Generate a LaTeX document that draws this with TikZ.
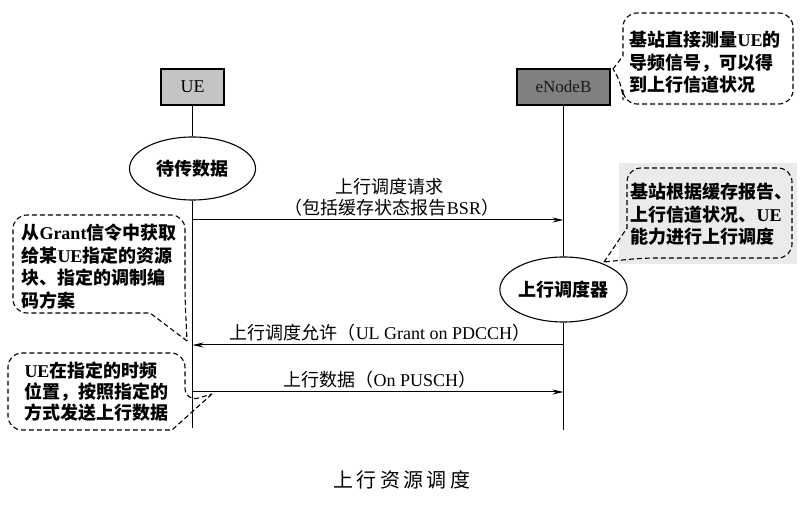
\documentclass[tikz,border=0pt]{standalone}
\usepackage{fontspec}
\setmainfont{Liberation Serif}
\newfontfamily\cjk{Noto Sans CJK SC}
\usetikzlibrary{arrows.meta,shapes.geometric}
\newcommand\zr[1]{{\cjk #1}}
\newcommand\zb[1]{{\cjk\bfseries #1}}
\begin{document}
\begin{tikzpicture}[x=1pt,y=-1pt,line width=1pt,
  lifebox/.style={draw,line width=1.2pt,minimum width=63pt,minimum height=36pt,inner sep=0pt},
  state/.style={draw,ellipse,line width=1.1pt,inner sep=0pt,font=\fontsize{18}{18}\selectfont},
  msg/.style={line width=1pt,-{Stealth[length=11pt,width=5pt]}},
  lbl/.style={inner sep=0pt,font=\fontsize{18}{18}\selectfont},
  calloutline/.style={draw,line width=1.1pt,dash pattern=on 5pt off 3pt},
  note/.style={anchor=west,inner sep=0pt,align=left,font=\fontsize{18}{22.5}\selectfont\bfseries}]
\useasboundingbox (0,0) rectangle (806,510);

% actors
\node[lifebox,fill=black!23] (ue) at (192.5,87) {\fontsize{18}{18}\selectfont UE};
\node[lifebox,fill=black!50,minimum width=93pt,text=black!90] (enb) at (563.5,87) {\fontsize{17}{17}\selectfont eNodeB};

% states
\node[state,minimum width=126pt,minimum height=63pt] (wait) at (192.5,168.5) {\zb{待传数据}};
\node[state,minimum width=127pt,minimum height=65pt] (sched) at (563.5,289.5) {\zb{上行调度器}};

% lifelines
\coordinate (ueend) at (192.5,428);
\coordinate (enbend) at (563.5,430);
\draw (ue.south) -- (wait.north);
\draw (wait.south) -- (ueend);
\draw (enb.south) -- (sched.north);
\draw (sched.south) -- (enbend);

% messages
\coordinate (u1) at (192.5,220); \coordinate (b1) at (563.5,220);
\coordinate (u2) at (192.5,345); \coordinate (b2) at (563.5,345);
\coordinate (u3) at (192.5,392); \coordinate (b3) at (563.5,392);
\draw[msg] (u1) -- (b1);
\draw[msg] (b2) -- (u2);
\draw[msg] (u3) -- (b3);
\node[lbl] (l1a) at (389,187) {\zr{上行调度请求}};
\node[lbl] (l1b) at (392,208) {\zr{（包括缓存状态报告}BSR\zr{）}};
\node[lbl] (l2) at (380,333) {\zr{上行调度允许（}UL Grant on PDCCH\zr{）}};
\node[lbl] (l3) at (380,380) {\zr{上行数据（}On PUSCH\zr{）}};

% callout A (top right)
\coordinate (tipA) at (613,69);
\draw[calloutline] (tipA) -- (623,56) [rounded corners=14pt] -- (623,13) -- (793,13) -- (793,104) -- (623,104) -- (623,86) [sharp corners] -- cycle;
\node[note] (noteA) at (629,62.5) {\zb{基站直接测量}UE\zb{的}\\\zb{导频信号，可以得}\\\zb{到上行信道状况}};

% callout B (right middle)
\fill[black!8] (619,163) rectangle (797,264);
\coordinate (tipB) at (604,262);
\draw[calloutline] (tipB) -- (627,228) [rounded corners=14pt] -- (627,168) -- (792,168) -- (792,258) -- (642,258) [sharp corners] -- cycle;
\node[note] (noteB) at (630,214.5) {\zb{基站根据缓存报告、}\\\zb{上行信道状况、}UE\\\zb{能力进行上行调度}};

% callout C (left top)
\coordinate (tipC) at (187,341);
\draw[calloutline] (tipC) -- (150,313) [rounded corners=14pt] -- (13,313) -- (13,215) -- (185,215) -- (185,298) [sharp corners] -- cycle;
\node[note] (noteC) at (21,266.5) {\zb{从}Grant\zb{信令中获取}\\\zb{给某}UE\zb{指定的资源}\\\zb{块、指定的调制编}\\\zb{码方案}};

% callout D (left bottom)
\coordinate (tipD) at (212,394);
\draw[calloutline] (tipD) -- (172,430) [rounded corners=14pt] -- (8,430) -- (8,353) -- (185,353) -- (185,402) [sharp corners] -- cycle;
\node[note,font=\fontsize{18}{21}\selectfont\bfseries] (noteD) at (24,392) {UE\zb{在指定的时频}\\\zb{位置，按照指定的}\\\zb{方式发送上行数据}};

% title
\node[inner sep=0pt] (title) at (402,480) {\fontsize{20}{20}\selectfont\cjk 上\,行\,资\,源\,调\,度};
\end{tikzpicture}
\end{document}
